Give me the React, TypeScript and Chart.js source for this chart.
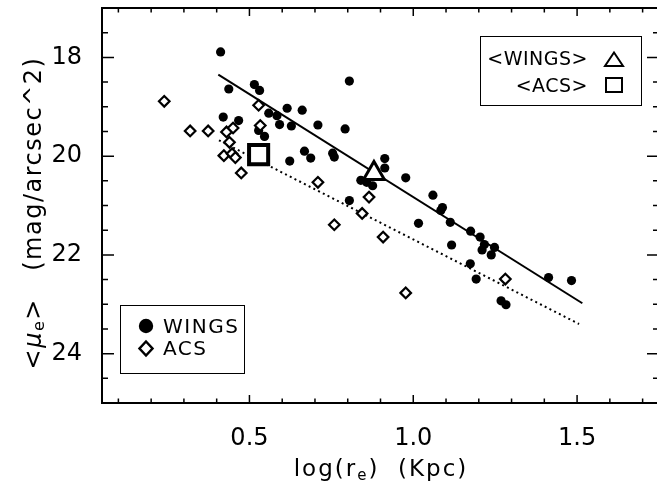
import React, { useEffect, useRef } from 'react';
import { Chart, registerables } from 'chart.js';

Chart.register(...registerables);

// ---- data ----
const wingsX = [0.412, 0.437, 0.515, 0.531, 0.420, 0.467, 0.528, 0.546, 0.559, 0.584, 0.615, 0.592, 0.628, 0.661, 0.709, 0.623, 0.668, 0.687, 0.754, 0.759, 0.792, 0.805, 0.805, 0.913, 0.913, 0.840, 0.858, 0.876, 0.977, 1.060, 1.089, 1.084, 1.016, 1.113, 1.175, 1.204, 1.217, 1.248, 1.210, 1.238, 1.117, 1.174, 1.192, 1.413, 1.483, 1.268, 1.283];
const wingsY = [17.89, 18.64, 18.55, 18.67, 19.21, 19.28, 19.48, 19.60, 19.13, 19.18, 19.03, 19.36, 19.39, 19.07, 19.37, 20.10, 19.90, 20.04, 19.94, 20.02, 19.45, 18.48, 20.90, 20.05, 20.24, 20.49, 20.53, 20.60, 20.44, 20.79, 21.04, 21.10, 21.36, 21.34, 21.52, 21.64, 21.79, 21.85, 21.90, 22.00, 21.80, 22.18, 22.49, 22.46, 22.52, 22.93, 23.01];

const acsX = [0.240, 0.319, 0.374, 0.430, 0.450, 0.439, 0.422, 0.447, 0.457, 0.475, 0.528, 0.533, 0.709, 0.759, 0.865, 0.844, 0.908, 0.977, 1.281];
const acsY = [18.89, 19.49, 19.49, 19.51, 19.43, 19.72, 19.99, 19.95, 20.03, 20.34, 18.97, 19.38, 20.53, 21.39, 20.83, 21.16, 21.64, 22.77, 22.49];

const wingsMeanX = [0.88];
const wingsMeanY = [20.35];
const acsMeanX = [0.528];
const acsMeanY = [19.97];

const wingsFitX = [0.405, 1.516];
const wingsFitY = [18.35, 22.98];
const acsFitX = [0.407, 1.506];
const acsFitY = [19.68, 23.40];

const xTickValues = [0.5, 1.0, 1.5];
const xTickLabels = ['0.5', '1.0', '1.5'];
const yTickValues = [18, 20, 22, 24];
const yTickLabels = ['18', '20', '22', '24'];
const xMin = 0.05, xMax = 1.75;
const yMin = 17, yMax = 25;

const FONT = '"DejaVu Sans", sans-serif';

const pts = (xs: number[], ys: number[]) => xs.map((x, i) => ({ x, y: ys[i] }));

const framePlugin = {
  id: 'frame',
  afterDatasetsDraw(chart: any) {
    const { ctx, chartArea, scales } = chart;
    const { left, right, top, bottom } = chartArea;
    const xs = scales.x, ys = scales.y;
    ctx.save();
    ctx.strokeStyle = '#000';
    ctx.lineWidth = 2;
    ctx.strokeRect(left, top, right - left, bottom - top);
    ctx.lineWidth = 1.5;
    ctx.beginPath();
    for (let i = 1; i <= 17; i++) {
      const v = i / 10;
      const major = xTickValues.some((t) => Math.abs(t - v) < 1e-6);
      const len = major ? 8 : 4.5;
      const px = xs.getPixelForValue(v);
      ctx.moveTo(px, bottom); ctx.lineTo(px, bottom - len);
      ctx.moveTo(px, top); ctx.lineTo(px, top + len);
    }
    for (let i = 35; i <= 49; i++) {
      const v = i / 2;
      const major = yTickValues.some((t) => Math.abs(t - v) < 1e-6);
      const len = major ? 12 : 6;
      const py = ys.getPixelForValue(v);
      ctx.moveTo(left, py); ctx.lineTo(left + len, py);
      ctx.moveTo(right, py); ctx.lineTo(right - len, py);
    }
    ctx.stroke();
    ctx.restore();
  },
};

type Seg = { t: string; font: string; dy?: number };

function drawSegs(ctx: CanvasRenderingContext2D, segs: Seg[], cx: number, base: number) {
  let total = 0;
  for (const s of segs) { ctx.font = s.font; total += ctx.measureText(s.t).width; }
  let x = cx - total / 2;
  for (const s of segs) {
    ctx.font = s.font;
    ctx.fillText(s.t, x, base + (s.dy || 0));
    x += ctx.measureText(s.t).width;
  }
}

const textPlugin = {
  id: 'texts',
  afterDraw(chart: any) {
    const ctx: CanvasRenderingContext2D = chart.ctx;
    ctx.save();
    ctx.fillStyle = '#000';
    ctx.strokeStyle = '#000';
    ctx.textBaseline = 'alphabetic';
    ctx.textAlign = 'left';
    (ctx as any).letterSpacing = '2px';

    // x title
    drawSegs(ctx, [
      { t: 'log(r', font: `23px ${FONT}` },
      { t: 'e', font: `15px ${FONT}`, dy: 4 },
      { t: ')  (Kpc)', font: `23px ${FONT}` },
    ], 381, 476);

    // y title
    ctx.save();
    ctx.translate(41, 213);
    ctx.rotate(-Math.PI / 2);
    (ctx as any).letterSpacing = '1.5px';
    drawSegs(ctx, [
      { t: '<', font: `24px ${FONT}` },
      { t: 'μ', font: `italic 24px ${FONT}` },
      { t: 'e', font: `16px ${FONT}`, dy: 3 },
      { t: '>   (mag/arcsec^2)', font: `24px ${FONT}` },
    ], 0, 0);
    ctx.restore();

    // top-right legend
    (ctx as any).letterSpacing = '0.5px';
    ctx.lineWidth = 1;
    ctx.strokeRect(480.5, 36.5, 161, 69);
    ctx.font = `19px ${FONT}`;
    ctx.textAlign = 'right';
    ctx.fillText('<WINGS>', 588, 65);
    ctx.fillText('<ACS>', 588, 91.5);
    ctx.lineWidth = 2;
    ctx.beginPath();
    ctx.moveTo(614, 52.5); ctx.lineTo(623, 66); ctx.lineTo(605, 66); ctx.closePath();
    ctx.stroke();
    ctx.strokeRect(606, 78, 16, 14);

    // bottom-left legend
    (ctx as any).letterSpacing = '1.5px';
    ctx.lineWidth = 1;
    ctx.strokeRect(120.5, 305.5, 124, 68);
    ctx.textAlign = 'left';
    ctx.font = `20px ${FONT}`;
    ctx.fillText('WINGS', 163, 333);
    ctx.fillText('ACS', 163, 355);
    ctx.beginPath();
    ctx.arc(146, 326, 7.2, 0, Math.PI * 2);
    ctx.fill();
    ctx.lineWidth = 2.5;
    ctx.beginPath();
    ctx.moveTo(146, 341.5); ctx.lineTo(152.5, 348.5); ctx.lineTo(146, 355.5); ctx.lineTo(139.5, 348.5); ctx.closePath();
    ctx.stroke();
    ctx.restore();
  },
};

export default function App() {
  const ref = useRef<HTMLCanvasElement | null>(null);
  useEffect(() => {
    if (!ref.current) return;
    const chart = new Chart(ref.current, {
      type: 'scatter',
      data: {
        datasets: [
          {
            label: 'WINGS fit', data: pts(wingsFitX, wingsFitY), showLine: true,
            borderColor: '#000', borderWidth: 2, pointRadius: 0, order: 6,
          } as any,
          {
            label: 'ACS fit', data: pts(acsFitX, acsFitY), showLine: true,
            borderColor: '#000', borderWidth: 2, borderDash: [2, 3.3], pointRadius: 0, order: 5,
          },
          {
            label: 'WINGS', data: pts(wingsX, wingsY), pointStyle: 'circle', pointRadius: 4.6,
            backgroundColor: '#000', borderColor: '#000', borderWidth: 0, order: 4,
          },
          {
            label: 'ACS', data: pts(acsX, acsY), pointStyle: 'rectRot', pointRadius: 5.3,
            backgroundColor: '#fff', borderColor: '#000', borderWidth: 2.2, order: 3,
          },
          {
            label: '<WINGS>', data: pts(wingsMeanX, wingsMeanY), pointStyle: 'triangle', pointRadius: 12,
            backgroundColor: '#fff', borderColor: '#000', borderWidth: 3, order: 2,
          },
          {
            label: '<ACS>', data: pts(acsMeanX, acsMeanY), pointStyle: 'rect', pointRadius: 13.5,
            backgroundColor: '#fff', borderColor: '#000', borderWidth: 4, order: 1,
          },
        ],
      },
      options: {
        responsive: false,
        animation: false,
        devicePixelRatio: 1,
        layout: { autoPadding: false, padding: { top: 8, right: 8, left: 0, bottom: 0 } },
        plugins: { legend: { display: false }, tooltip: { enabled: false } },
        scales: {
          x: {
            type: 'linear', min: xMin, max: xMax,
            grid: { display: false },
            border: { display: false },
            afterBuildTicks: (s: any) => { s.ticks = xTickValues.map((v) => ({ value: v })); },
            afterFit: (s: any) => { s.height = 82; s.paddingLeft = 0; s.paddingRight = 0; },
            ticks: {
              autoSkip: false, maxRotation: 0, padding: 13, color: '#000',
              font: { family: FONT, size: 24 },
              callback: (v: any) => xTickLabels[xTickValues.findIndex((t) => Math.abs(t - v) < 1e-6)] ?? '',
            },
          },
          y: {
            type: 'linear', min: yMin, max: yMax, reverse: true,
            grid: { display: false },
            border: { display: false },
            afterBuildTicks: (s: any) => { s.ticks = yTickValues.map((v) => ({ value: v })); },
            afterFit: (s: any) => { s.width = 102; s.paddingTop = 0; s.paddingBottom = 0; },
            ticks: {
              autoSkip: false, padding: 12, color: '#000',
              font: { family: FONT, size: 24 },
              callback: (v: any) => yTickLabels[yTickValues.findIndex((t) => Math.abs(t - v) < 1e-6)] ?? '',
            },
          },
        },
      } as any,
      plugins: [framePlugin, textPlugin],
    });
    return () => chart.destroy();
  }, []);
  return (
    <div style={{ position: 'absolute', left: 0, top: 0, width: 657, height: 485, overflow: 'hidden', background: '#fff' }}>
      <canvas ref={ref} width={667} height={485} style={{ display: 'block', width: 667, height: 485 }} />
    </div>
  );
}
